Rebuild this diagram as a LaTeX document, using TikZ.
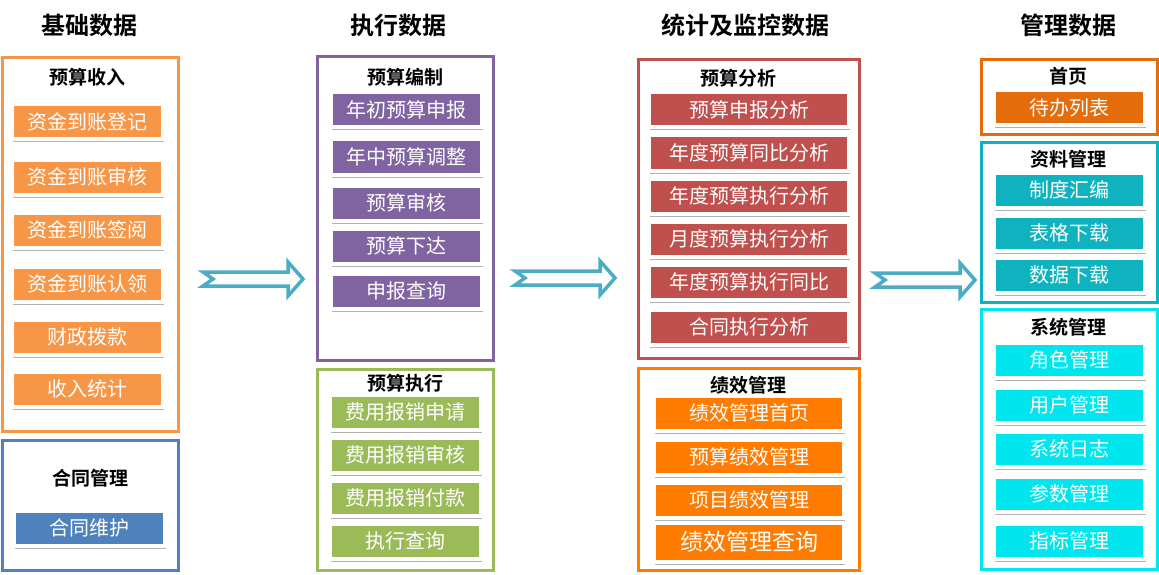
\documentclass[tikz,border=0pt]{standalone}
\usepackage{fontspec}
\setmainfont{Noto Sans CJK SC}[BoldFont={Noto Sans CJK SC Bold}]
\usetikzlibrary{shadows}

% 各模块颜色
\definecolor{shouru}{HTML}{F79646}
\definecolor{hetong}{HTML}{4F81BD}
\definecolor{bianzhi}{HTML}{8064A2}
\definecolor{zhixing}{HTML}{9BBB59}
\definecolor{fenxi}{HTML}{C0504D}
\definecolor{jixiao}{HTML}{FF7C00}
\definecolor{shouye}{HTML}{E46C0A}
\definecolor{ziliao}{HTML}{0FB3BF}
\definecolor{xitong}{HTML}{00E6EE}
\definecolor{jiantou}{HTML}{4BACC6}

\tikzset{
	lanmu/.style={font=\bfseries\fontsize{24}{24}\selectfont},
	zubiao/.style={font=\bfseries\fontsize{19}{19}\selectfont},
	zukuang/.style={line width=3pt, inner sep=0, minimum width=#1},
	zukuang/.default=176,
	xiang/.style={draw=white, line width=4pt, inner sep=0, text=white,
		minimum width=151, minimum height=35,
		font=\fontsize{20}{20}\selectfont,
		drop shadow={shadow xshift=1pt, shadow yshift=-3pt, opacity=0.5, fill=black!60}},
	pics/jt/.style={code={
		\draw[jiantou, line width=3.5pt, fill=white]
			(-50,-7) -- (35,-7) -- (35,-17) -- (50,0) -- (35,17) -- (35,7) -- (-50,7) -- (-40,0) -- cycle;
	}}
}

\begin{document}
\begin{tikzpicture}[x=1pt, y=-1pt]
	\useasboundingbox (0,0) rectangle (1159,575);

	%栏目标题
	\node[lanmu] (t1) at (89,25) {基础数据};
	\node[lanmu] (t2) at (398,25) {执行数据};
	\node[lanmu] (t3) at (745,25) {统计及监控数据};
	\node[lanmu] (t4) at (1068,25) {管理数据};

	%基础数据
	\node[zukuang, draw=shouru, minimum height=373] (srk) at (90,244.5) {};
	\node[zubiao] (srt) at (87,77) {预算收入};
	\foreach \y/\t [count=\i] in {122/资金到账登记, 177/资金到账审核, 230/资金到账签阅,
		284/资金到账认领, 337/财政拨款, 389/收入统计}
		\node[xiang, fill=shouru] (sr\i) at (87.5,\y) {\t};

	\node[zukuang, draw=hetong, minimum height=130] (htk) at (90,505) {};
	\node[zubiao] (htt) at (90,478) {合同管理};
	\node[xiang, fill=hetong] (ht1) at (89.5,528) {合同维护};

	%执行数据
	\node[zukuang, draw=bianzhi, minimum height=303] (bzk) at (405,208.5) {};
	\node[zubiao] (bzt) at (405,77) {预算编制};
	\foreach \y/\t [count=\i] in {110/年初预算申报, 157/年中预算调整, 203/预算审核,
		246/预算下达, 291/申报查询}
		\node[xiang, fill=bianzhi] (bz\i) at (406,\y) {\t};

	\node[zukuang, draw=zhixing, minimum height=201] (zxk) at (405,469.5) {};
	\node[zubiao] (zxt) at (405,383) {预算执行};
	\foreach \y/\t [count=\i] in {412/费用报销申请, 455/费用报销审核, 498/费用报销付款, 541/执行查询}
		\node[xiang, fill=zhixing] (zx\i) at (405,\y) {\t};

	%统计及监控数据
	\node[zukuang=221, draw=fenxi, minimum height=298] (fxk) at (749,209) {};
	\node[zubiao] (fxt) at (738,78) {预算分析};
	\foreach \y/\t [count=\i] in {110/预算申报分析, 153/年度预算同比分析, 196/年度预算执行分析,
		239/月度预算执行分析, 282/年度预算执行同比, 327/合同执行分析}
		\node[xiang, fill=fenxi, minimum width=200] (fx\i) at (749,\y) {\t};

	\node[zukuang=221, draw=jixiao, minimum height=202] (jxk) at (749,469) {};
	\node[zubiao] (jxt) at (748,385) {绩效管理};
	\foreach \y/\t [count=\i] in {413/绩效管理首页, 457/预算绩效管理, 500/项目绩效管理}
		\node[xiang, fill=jixiao, minimum width=190] (jx\i) at (749,\y) {\t};
	\node[xiang, fill=jixiao, minimum width=190, minimum height=39,
		font=\fontsize{23}{23}\selectfont] (jx4) at (749,542) {绩效管理查询};

	%管理数据
	\node[zukuang, draw=shouye, minimum height=75] (syk) at (1069,97.5) {};
	\node[zubiao] (syt) at (1068,76) {首页};
	\node[xiang, fill=shouye] (sy1) at (1069.5,107.5) {待办列表};

	\node[zukuang, draw=ziliao, minimum height=159] (zlk) at (1069,222.5) {};
	\node[zubiao] (zlt) at (1068,159) {资料管理};
	\foreach \y/\t [count=\i] in {190/制度汇编, 233/表格下载, 275/数据下载}
		\node[xiang, fill=ziliao] (zl\i) at (1069.5,\y) {\t};

	\node[zukuang, draw=xitong, minimum height=260] (xtk) at (1069,439) {};
	\node[zubiao] (xtt) at (1068,327) {系统管理};
	\foreach \y/\t [count=\i] in {360/角色管理, 405/用户管理, 449/系统日志, 494/参数管理, 541/指标管理}
		\node[xiang, fill=xitong] (xt\i) at (1069.5,\y) {\t};

	%栏目之间的箭头
	\pic at (253,279) {jt};
	\pic at (565,278) {jt};
	\pic at (925,280) {jt};

\end{tikzpicture}
\end{document}
